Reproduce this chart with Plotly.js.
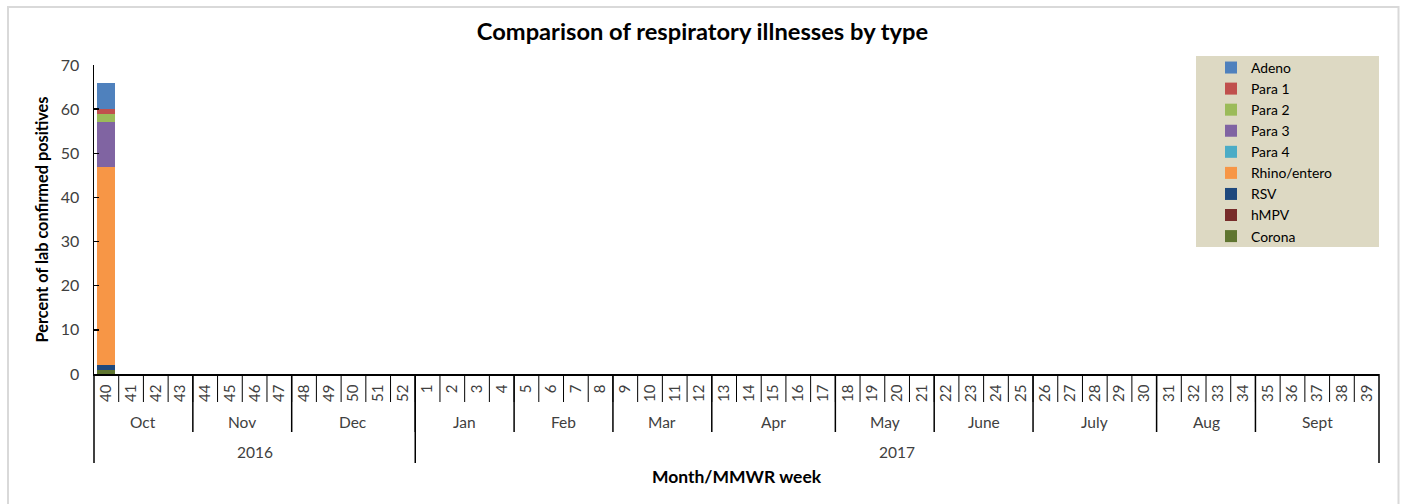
<!DOCTYPE html>
<html>
<head>
<meta charset="utf-8">
<script src="https://cdn.plot.ly/plotly-3.0.1.min.js"></script>
<style>html,body{margin:0;padding:0;background:#fff;}#chart{width:1405px;height:504px;}</style>
</head>
<body>
<div id="chart"></div>
<script>
// ---- data ----
const weeks = ['40','41','42','43','44','45','46','47','48','49','50','51','52',
  '1','2','3','4','5','6','7','8','9','10','11','12','13','14','15','16','17',
  '18','19','20','21','22','23','24','25','26','27','28','29','30','31','32','33','34',
  '35','36','37','38','39'];
const monthLabels = ['Oct','Nov','Dec','Jan','Feb','Mar','Apr','May','June','July','Aug','Sept'];
const monthWeekCounts = [4,4,5,4,4,4,5,4,4,5,4,5];
const yearLabels = ['2016','2017'];
const yearWeekCounts = [13,39];

// series values (only week 40 reported)
const corona = [1];
const hmpv = [0];
const rsv = [1];
const rhino = [45];
const para4 = [0];
const para3 = [10];
const para2 = [2];
const para1 = [1];
const adeno = [6];

const seriesNames = ['Corona','hMPV','RSV','Rhino/entero','Para 4','Para 3','Para 2','Para 1','Adeno'];
const seriesValues = [corona,hmpv,rsv,rhino,para4,para3,para2,para1,adeno];
const seriesColors = ['#5F7530','#772C2A','#1F497D','#F79646','#4BACC6','#8064A2','#9BBB59','#C0504D','#4F81BD'];

const FONT = 'Lato, "Open Sans", sans-serif';

const traces = seriesNames.map((n,i)=>({
  type:'bar', name:n, x:weeks.slice(0, seriesValues[i].length), y:seriesValues[i],
  marker:{color:seriesColors[i], line:{width:0}}, hoverinfo:'x+y+name'
}));

// pixel helpers for the layout (plot area: top 65, bottom 374)
const plotTop = 65, plotBottom = 374, H = plotBottom - plotTop;
const py = p => (plotBottom - p) / H;

const shapes = [];
const annotations = [];
// outer chart border
shapes.push({type:'rect', xref:'paper', yref:'paper', x0:(8-94)/1285, x1:(1398.5-94)/1285, y0:py(515), y1:py(7),
  line:{color:'#d9d9d9', width:2}, fillcolor:'rgba(0,0,0,0)', layer:'below'});
// legend background
shapes.push({type:'rect', xref:'paper', yref:'paper', x0:(1196-94)/1285, x1:(1379-94)/1285, y0:py(247), y1:py(56),
  line:{width:0}, fillcolor:'#DDD9C3', layer:'below'});

// week dividers
for (let i = 0; i < weeks.length - 1; i++) {
  shapes.push({type:'line', xref:'x', yref:'paper', x0:i+0.5, x1:i+0.5, y0:0, y1:py(402), line:{color:'#000', width:1}});
}
// month dividers and labels
let pos = 0;
monthLabels.forEach((m,k)=>{
  const c = monthWeekCounts[k];
  annotations.push({xref:'x', yref:'paper', x:pos + (c-1)/2, y:py(422), text:m, showarrow:false,
    font:{family:FONT, size:15.5, color:'#404040'}, xanchor:'center', yanchor:'middle'});
  pos += c;
  if (k < monthLabels.length - 1) {
    shapes.push({type:'line', xref:'x', yref:'paper', x0:pos-0.5, x1:pos-0.5, y0:0, y1:py(432), line:{color:'#000', width:1.5}});
  }
});
// year dividers and labels
pos = 0;
yearLabels.forEach((yv,k)=>{
  const c = yearWeekCounts[k];
  annotations.push({xref:'x', yref:'paper', x:pos + (c-1)/2, y:py(452), text:yv, showarrow:false,
    font:{family:FONT, size:15.5, color:'#404040'}, xanchor:'center', yanchor:'middle'});
  pos += c;
  if (k < yearLabels.length - 1) {
    shapes.push({type:'line', xref:'x', yref:'paper', x0:pos-0.5, x1:pos-0.5, y0:0, y1:py(463), line:{color:'#000', width:1.5}});
  }
});
// outer edges of the axis table
shapes.push({type:'line', xref:'paper', yref:'paper', x0:0, x1:0, y0:0, y1:py(463), line:{color:'#000', width:1.5}});
shapes.push({type:'line', xref:'paper', yref:'paper', x0:1, x1:1, y0:0, y1:py(463), line:{color:'#000', width:1.5}});

const layout = {
  width:1405, height:504,
  margin:{l:94, r:26, t:plotTop, b:504-plotBottom, pad:0},
  paper_bgcolor:'#fff', plot_bgcolor:'rgba(0,0,0,0)',
  font:{family:FONT, color:'#000'},
  title:{text:'<b>Comparison of respiratory illnesses by type</b>', font:{family:FONT, size:23.7, color:'#000'},
    x:0.5, xanchor:'center', y:1-32/504, yanchor:'middle'},
  barmode:'stack', bargap:0.27,
  showlegend:true,
  legend:{x:(1211-94)/1285, y:py(52), xanchor:'left', yanchor:'top', bgcolor:'rgba(0,0,0,0)',
    traceorder:'reversed', font:{family:FONT, size:13.9, color:'#000'}, itemwidth:30, borderwidth:0},
  xaxis:{type:'category', categoryorder:'array', categoryarray:weeks, range:[-0.5, weeks.length-0.5],
    tickangle:-90, ticks:'', showgrid:false, zeroline:false, showline:true, linecolor:'#000', linewidth:1.5,
    tickfont:{family:FONT, size:15, color:'#404040'}, ticklabelstandoff:3, fixedrange:true,
    title:{text:'<b>Month/MMWR week</b>', font:{family:FONT, size:17.5, color:'#000'}, standoff:70}},
  yaxis:{range:[0,70], dtick:10, tick0:0, ticks:'inside', ticklen:5, tickcolor:'#000', tickwidth:1.5,
    showgrid:false, zeroline:false, showline:true, linecolor:'#000', linewidth:1.5,
    tickfont:{family:FONT, size:16, color:'#404040'}, ticklabelstandoff:10, fixedrange:true,
    title:{text:'<b>Percent of lab confirmed positives</b>', font:{family:FONT, size:16.3, color:'#000'}, standoff:8}},
  shapes:shapes, annotations:annotations
};

Plotly.newPlot('chart', traces, layout, {displayModeBar:false, staticPlot:true});
</script>
</body>
</html>
